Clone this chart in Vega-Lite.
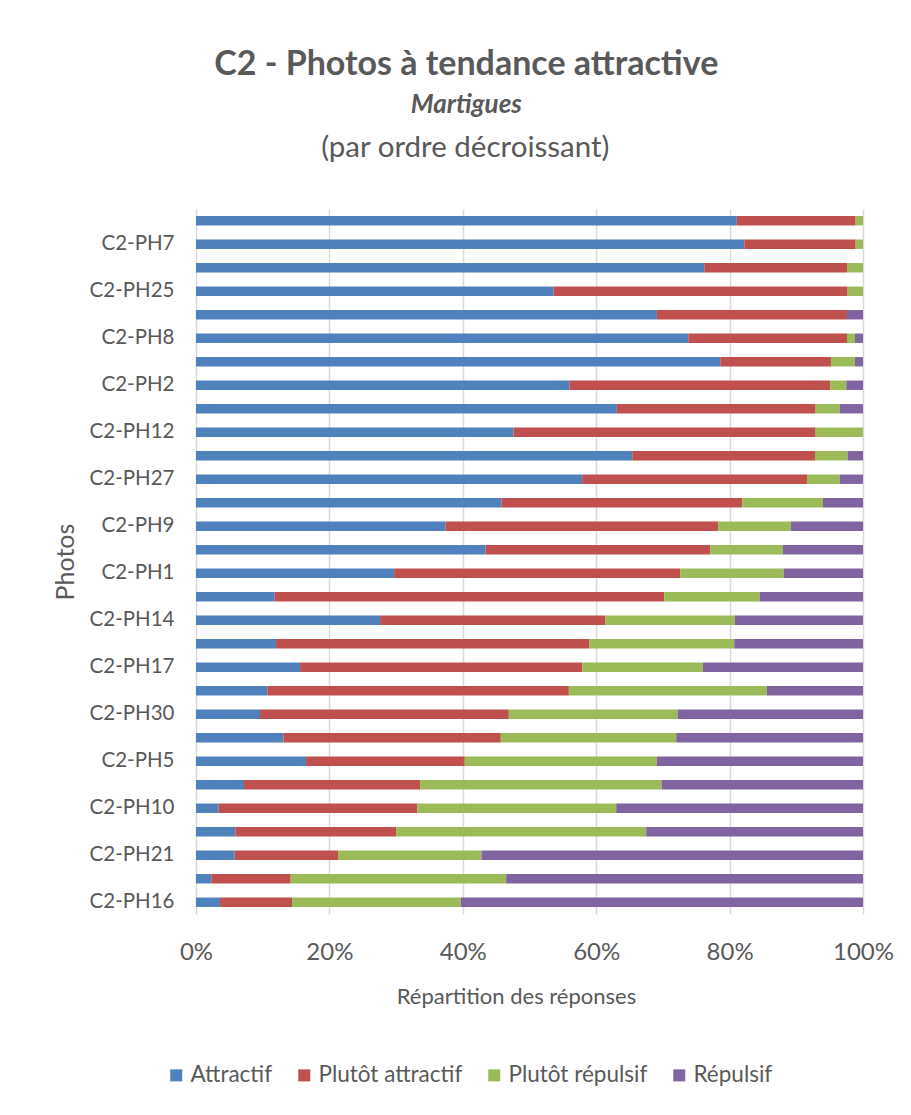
{
  "$schema": "https://vega.github.io/schema/vega-lite/v6.json",
  "background": "white",
  "padding": {"left": 53, "top": 47, "right": 15, "bottom": 20},
  "title": {
    "text": "C2 - Photos à tendance attractive",
    "subtitle": "Martigues",
    "font": "Lato", "fontSize": 34, "fontWeight": "bold", "color": "#595959",
    "subtitleFont": "Lato", "subtitleFontSize": 26, "subtitleFontStyle": "italic", "subtitleFontWeight": "bold", "subtitleColor": "#595959",
    "subtitlePadding": 10, "anchor": "middle", "frame": "bounds", "offset": 15, "dx": -7
  },
  "datasets": {
    "photos": [
      {"i": 1, "p": "C2-PH3", "Attractif": 81.0, "Plutôt attractif": 17.8, "Plutôt répulsif": 1.1, "Répulsif": 0},
      {"i": 2, "p": "C2-PH7", "Attractif": 82.2, "Plutôt attractif": 16.7, "Plutôt répulsif": 1.1, "Répulsif": 0},
      {"i": 3, "p": "C2-PH4", "Attractif": 76.2, "Plutôt attractif": 21.4, "Plutôt répulsif": 2.4, "Répulsif": 0},
      {"i": 4, "p": "C2-PH25", "Attractif": 53.6, "Plutôt attractif": 44.1, "Plutôt répulsif": 2.3, "Répulsif": 0},
      {"i": 5, "p": "C2-PH6", "Attractif": 69.1, "Plutôt attractif": 28.5, "Plutôt répulsif": 0, "Répulsif": 2.4},
      {"i": 6, "p": "C2-PH8", "Attractif": 73.8, "Plutôt attractif": 23.8, "Plutôt répulsif": 1.2, "Répulsif": 1.2},
      {"i": 7, "p": "C2-PH11", "Attractif": 78.6, "Plutôt attractif": 16.6, "Plutôt répulsif": 3.6, "Répulsif": 1.2},
      {"i": 8, "p": "C2-PH2", "Attractif": 56.0, "Plutôt attractif": 39.1, "Plutôt répulsif": 2.4, "Répulsif": 2.5},
      {"i": 9, "p": "C2-PH13", "Attractif": 63.1, "Plutôt attractif": 29.8, "Plutôt répulsif": 3.6, "Répulsif": 3.5},
      {"i": 10, "p": "C2-PH12", "Attractif": 47.6, "Plutôt attractif": 45.3, "Plutôt répulsif": 7.1, "Répulsif": 0},
      {"i": 11, "p": "C2-PH15", "Attractif": 65.4, "Plutôt attractif": 27.4, "Plutôt répulsif": 4.9, "Répulsif": 2.3},
      {"i": 12, "p": "C2-PH27", "Attractif": 57.9, "Plutôt attractif": 33.7, "Plutôt répulsif": 4.9, "Répulsif": 3.5},
      {"i": 13, "p": "C2-PH18", "Attractif": 45.8, "Plutôt attractif": 36.1, "Plutôt répulsif": 12.1, "Répulsif": 6.0},
      {"i": 14, "p": "C2-PH9", "Attractif": 37.4, "Plutôt attractif": 40.9, "Plutôt répulsif": 10.9, "Répulsif": 10.8},
      {"i": 15, "p": "C2-PH19", "Attractif": 43.4, "Plutôt attractif": 33.7, "Plutôt répulsif": 10.9, "Répulsif": 12.0},
      {"i": 16, "p": "C2-PH1", "Attractif": 29.7, "Plutôt attractif": 42.9, "Plutôt répulsif": 15.5, "Répulsif": 11.9},
      {"i": 17, "p": "C2-PH20", "Attractif": 11.8, "Plutôt attractif": 58.4, "Plutôt répulsif": 14.3, "Répulsif": 15.5},
      {"i": 18, "p": "C2-PH14", "Attractif": 27.6, "Plutôt attractif": 33.8, "Plutôt répulsif": 19.4, "Répulsif": 19.2},
      {"i": 19, "p": "C2-PH22", "Attractif": 12.0, "Plutôt attractif": 47.0, "Plutôt répulsif": 21.7, "Répulsif": 19.3},
      {"i": 20, "p": "C2-PH17", "Attractif": 15.6, "Plutôt attractif": 42.3, "Plutôt répulsif": 18.1, "Répulsif": 24.0},
      {"i": 21, "p": "C2-PH23", "Attractif": 10.7, "Plutôt attractif": 45.2, "Plutôt répulsif": 29.7, "Répulsif": 14.4},
      {"i": 22, "p": "C2-PH30", "Attractif": 9.6, "Plutôt attractif": 37.3, "Plutôt répulsif": 25.3, "Répulsif": 27.8},
      {"i": 23, "p": "C2-PH24", "Attractif": 13.1, "Plutôt attractif": 32.6, "Plutôt répulsif": 26.3, "Répulsif": 28.0},
      {"i": 24, "p": "C2-PH5", "Attractif": 16.5, "Plutôt attractif": 23.8, "Plutôt répulsif": 28.8, "Répulsif": 30.9},
      {"i": 25, "p": "C2-PH26", "Attractif": 7.2, "Plutôt attractif": 26.4, "Plutôt répulsif": 36.2, "Répulsif": 30.2},
      {"i": 26, "p": "C2-PH10", "Attractif": 3.4, "Plutôt attractif": 29.8, "Plutôt répulsif": 29.8, "Répulsif": 37.0},
      {"i": 27, "p": "C2-PH28", "Attractif": 5.9, "Plutôt attractif": 24.1, "Plutôt répulsif": 37.5, "Répulsif": 32.5},
      {"i": 28, "p": "C2-PH21", "Attractif": 5.8, "Plutôt attractif": 15.5, "Plutôt répulsif": 21.5, "Répulsif": 57.2},
      {"i": 29, "p": "C2-PH29", "Attractif": 2.3, "Plutôt attractif": 11.9, "Plutôt répulsif": 32.3, "Répulsif": 53.5},
      {"i": 30, "p": "C2-PH16", "Attractif": 3.6, "Plutôt attractif": 10.8, "Plutôt répulsif": 25.3, "Répulsif": 60.3}
    ]
  },
  "vconcat": [
    {
      "title": {"text": "(par ordre décroissant)", "font": "Lato", "fontSize": 29.5, "fontWeight": "normal", "color": "#595959", "anchor": "middle", "frame": "bounds", "offset": 46, "dx": -8},
      "width": 667,
      "height": 705,
      "data": {"name": "photos"},
      "transform": [
        {"fold": ["Attractif", "Plutôt attractif", "Plutôt répulsif", "Répulsif"], "as": ["cat", "val"]}
      ],
      "mark": {"type": "bar"},
      "encoding": {
        "y": {
          "field": "p", "type": "nominal",
          "sort": {"field": "i", "op": "min", "order": "ascending"},
          "scale": {"paddingInner": 0.6, "paddingOuter": 0.3},
          "axis": {
            "values": ["C2-PH7", "C2-PH25", "C2-PH8", "C2-PH2", "C2-PH12", "C2-PH27", "C2-PH9", "C2-PH1", "C2-PH14", "C2-PH17", "C2-PH30", "C2-PH5", "C2-PH10", "C2-PH21", "C2-PH16"],
            "title": "Photos", "titleFontSize": 25, "ticks": false, "domain": false, "labelFontSize": 20.5, "labelPadding": 22, "titlePadding": 11
          }
        },
        "x": {
          "field": "val", "type": "quantitative", "stack": "normalize",
          "scale": {"domain": [0, 1]},
          "axis": {
            "format": ".0%", "values": [0, 0.2, 0.4, 0.6, 0.8, 1],
            "title": "Répartition des réponses", "titleFontSize": 22, "titleX": 320, "labelFontSize": 24, "labelFlush": false,
            "ticks": false, "domain": false,
            "grid": true, "gridColor": "#d9d9d9", "gridWidth": 1.5,
            "labelPadding": 26, "titlePadding": 22
          }
        },
        "color": {
          "field": "cat", "type": "nominal",
          "scale": {"domain": ["Attractif", "Plutôt attractif", "Plutôt répulsif", "Répulsif"], "range": ["#4F81BD", "#C0504D", "#9BBB59", "#8064A2"]},
          "legend": {"orient": "none", "legendX": -31, "legendY": 855, "direction": "horizontal", "title": null, "symbolType": "square", "symbolSize": 144, "symbolStrokeWidth": 0, "labelFontSize": 22.5, "labelOffset": 3, "columnPadding": 20}
        }
      }
    }
  ],
  "config": {
    "font": "Lato",
    "view": {"stroke": null},
    "axis": {"labelFont": "Lato", "titleFont": "Lato", "labelColor": "#595959", "titleColor": "#595959", "titleFontWeight": "normal"},
    "legend": {"labelFont": "Lato", "labelColor": "#595959"}
  }
}
